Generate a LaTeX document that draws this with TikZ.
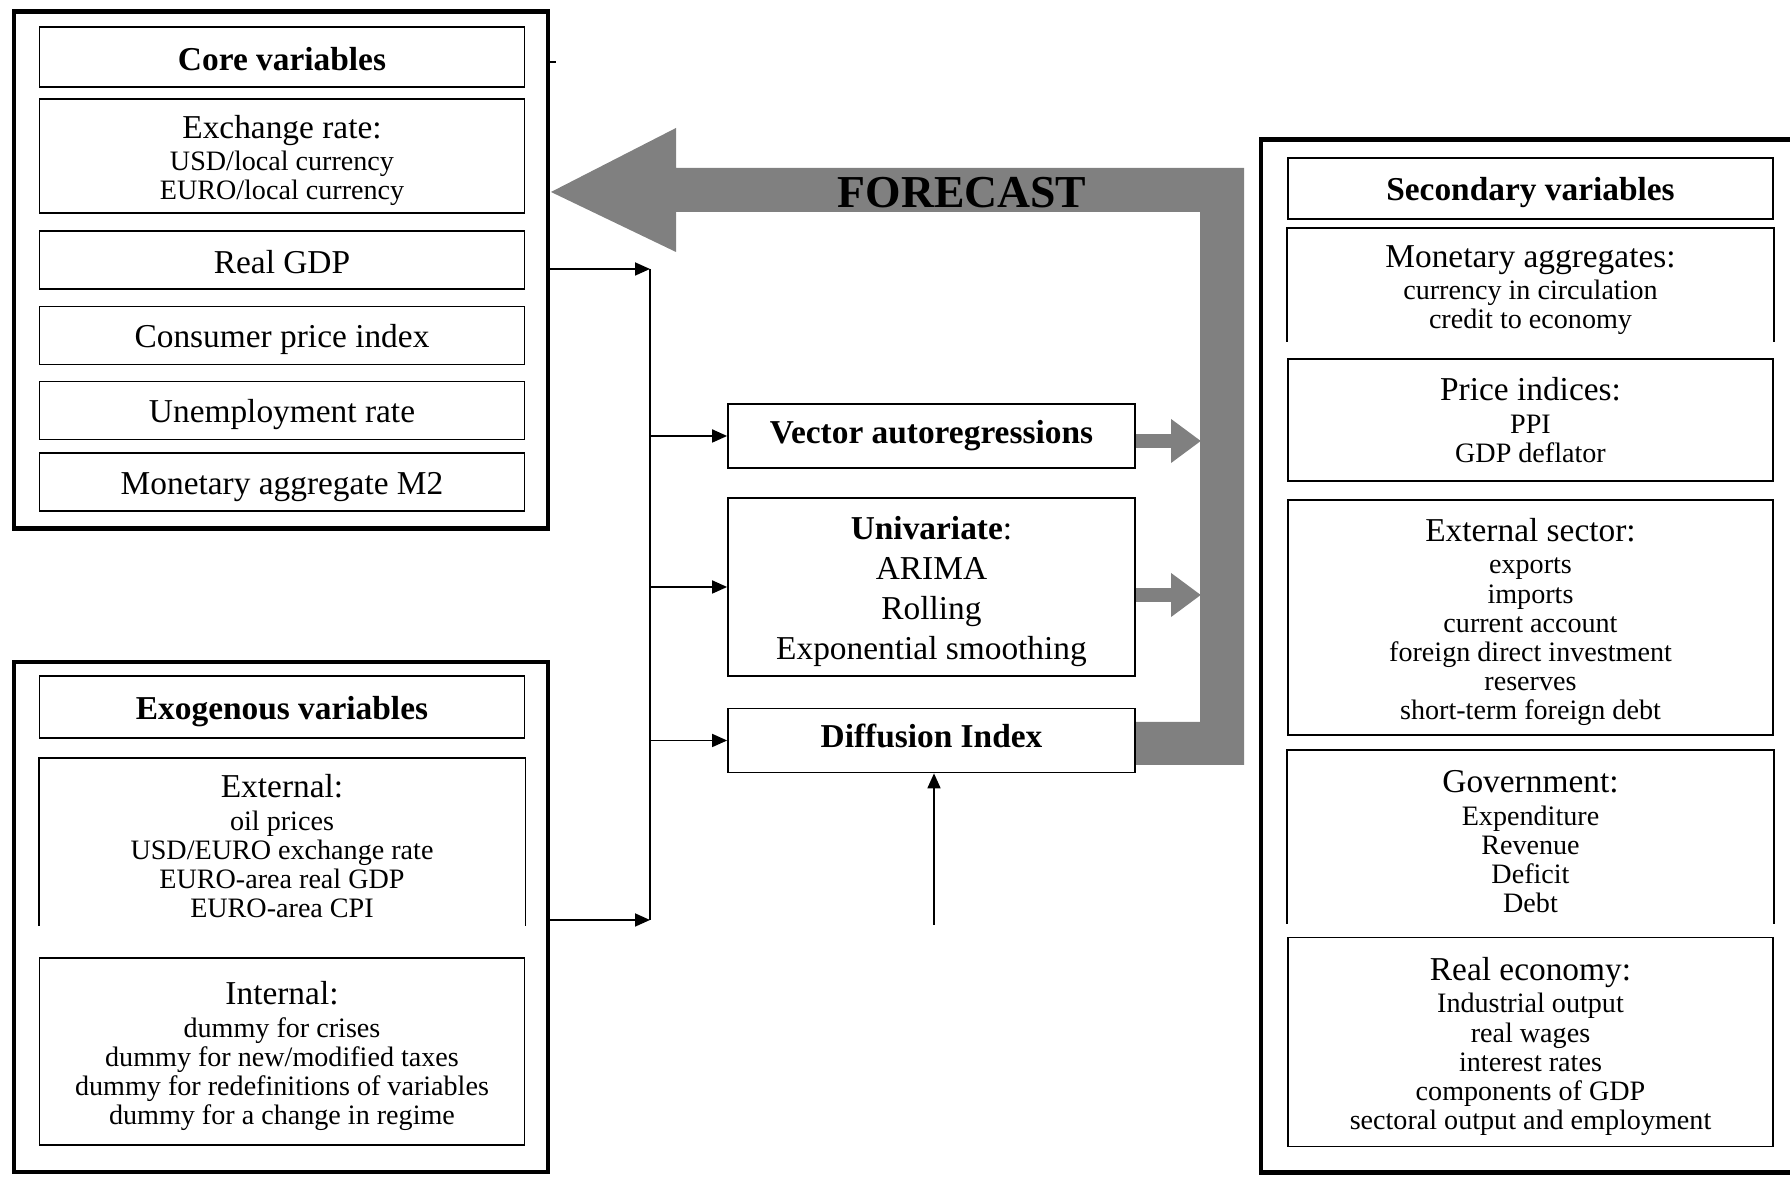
\documentclass[tikz,border=0pt]{standalone}
\usepackage{fontspec}
\setmainfont{Liberation Serif}
\usetikzlibrary{arrows.meta}

\newcommand{\headsize}{\fontsize{9.5}{11}\selectfont}
\newcommand{\subsize}{\fontsize{8}{8.3}\selectfont}
\newcommand{\tp}{\rule{0pt}{9.1pt}}

\begin{document}
\begin{tikzpicture}[x=0.1mm, y=-0.1mm,
    every node/.style={rectangle, inner sep=0pt, align=center},
    bigbox/.style={draw, line width=1.4pt},
    vbox/.style={draw, line width=0.5pt, minimum width=48.5mm, font=\headsize},
    single/.style={vbox, text height=9pt},
    multi/.style={vbox, font=\subsize},
    obox/.style={multi, draw=none},
    mbox/.style={vbox, minimum width=40.7mm},
    conn/.style={line width=0.5pt, -{Triangle[length=1.5mm, width=1.3mm]}},
    fat/.style={draw=gray, line width=1.4mm, -{Triangle[length=3mm, width=4.2mm]}}]

    \useasboundingbox (0,0) rectangle (1790,1178);

    % freccia grande
    \fill[gray] (551,192) -- (676,128) -- (676,168) -- (1244,168) -- (1244,765)
        -- (1136,765) -- (1136,722) -- (1200,722) -- (1200,212) -- (676,212)
        -- (676,252) -- cycle;
    \node[font=\fontsize{13}{14}\selectfont\bfseries] (fc) at (962,193) {FORECAST};

    % blocchi esterni
    \node[bigbox, minimum width=53.4mm, minimum height=51.65mm] (core) at (281,270) {};
    \node[bigbox, minimum width=53.4mm, minimum height=51mm] (exog) at (281,917) {};
    \node[bigbox, minimum width=53.9mm, minimum height=103.25mm] (second) at (1530.5,656) {};

    % core variables
    \node[single, minimum height=6mm, font=\headsize\bfseries, text height=7.5pt] (corehead) at (282,57) {Core variables};
    \node[multi, minimum height=11.45mm] (exch) at (282,156) {{\headsize\tp Exchange rate:}\\[1pt] USD/local currency\\ EURO/local currency};
    \node[single, minimum height=5.75mm, text height=8pt] (gdp) at (282,260) {Real GDP};
    \node[single, minimum height=5.8mm] (cpi) at (282,335.5) {Consumer price index};
    \node[single, minimum height=5.8mm] (unemp) at (282,410.5) {Unemployment rate};
    \node[single, minimum height=5.8mm] (mtwo) at (282,482) {Monetary aggregate M2};
    \draw[line width=0.5pt] (core.east |- 0,62) -- ++(6,0);

    % exogenous variables
    \node[single, minimum height=6.2mm, font=\headsize\bfseries] (exoghead) at (282,707) {Exogenous variables};
    \node[obox, minimum height=16.6mm] (extern) at (282,842) {{\headsize\tp External:}\\[1pt] oil prices\\ USD/EURO exchange rate\\ EURO-area real GDP\\ EURO-area CPI};
    \draw[line width=0.5pt] (extern.south west) -- (extern.north west) -- (extern.north east) -- (extern.south east);
    \node[multi, minimum height=18.7mm] (intern) at (282,1051.5) {{\headsize\tp Internal:}\\[1pt] dummy for crises\\ dummy for new/modified taxes\\ dummy for redefinitions of variables\\ dummy for a change in regime};

    % secondary variables
    \node[single, minimum height=6.1mm, font=\headsize\bfseries] (sechead) at (1530.5,188.5) {Secondary variables};
    \node[obox, minimum height=11.2mm] (monet) at (1530.5,285) {{\headsize\tp Monetary aggregates:}\\[1pt] currency in circulation\\ credit to economy};
    \draw[line width=0.5pt] (monet.south west) -- (monet.north west) -- (monet.north east) -- (monet.south east);
    \node[multi, minimum height=12.2mm] (price) at (1530.5,420) {{\headsize Price indices:}\\[1pt] PPI\\ GDP deflator};
    \node[multi, minimum height=23.5mm] (extsec) at (1530.5,617.5) {{\headsize\tp External sector:}\\[1pt] exports\\ imports\\ current account\\ foreign direct investment\\ reserves\\ short-term foreign debt};
    \node[obox, minimum height=17.2mm] (gov) at (1530.5,837) {{\headsize\tp Government:}\\[1pt] Expenditure\\ Revenue\\ Deficit\\ Debt};
    \draw[line width=0.5pt] (gov.south west) -- (gov.north west) -- (gov.north east) -- (gov.south east);
    \node[multi, minimum height=20.9mm] (realeco) at (1530.5,1042) {{\headsize\tp Real economy:}\\[1pt] Industrial output\\ real wages\\ interest rates\\ components of GDP\\ sectoral output and employment};

    % metodi
    \node[mbox, minimum height=6.4mm, font=\headsize\bfseries] (var) at (931.5,436) {Vector autoregressions};
    \node[mbox, minimum height=17.75mm, font=\fontsize{9.5}{11.4}\selectfont] (univ) at (931.5,587) {\tp\textbf{Univariate}:\\ ARIMA\\ Rolling\\ Exponential smoothing};
    \node[mbox, minimum height=6.4mm, font=\headsize\bfseries, text depth=2.6pt] (diff) at (931.5,740.5) {Diffusion Index};

    % archi
    \coordinate (jtop) at (650,269);
    \coordinate (jbot) at (650,920);
    \coordinate (dsrc) at (934,925);
    \coordinate (barv) at (1201,441);
    \coordinate (baru) at (1201,595);
    \draw[line width=0.5pt] (jtop) -- (jbot);
    \draw[conn] (core.east |- jtop) -- (jtop);
    \draw[conn] (exog.east |- jbot) -- (jbot);
    \draw[conn] (jtop |- var.west) -- (var.west);
    \draw[conn] (jtop |- univ.west) -- (univ.west);
    \draw[conn] (jtop |- diff.west) -- (diff.west);
    \draw[conn] (dsrc) -- (dsrc |- diff.south);
    \draw[fat] (var.east |- barv) -- (barv);
    \draw[fat] (univ.east |- baru) -- (baru);
\end{tikzpicture}
\end{document}
